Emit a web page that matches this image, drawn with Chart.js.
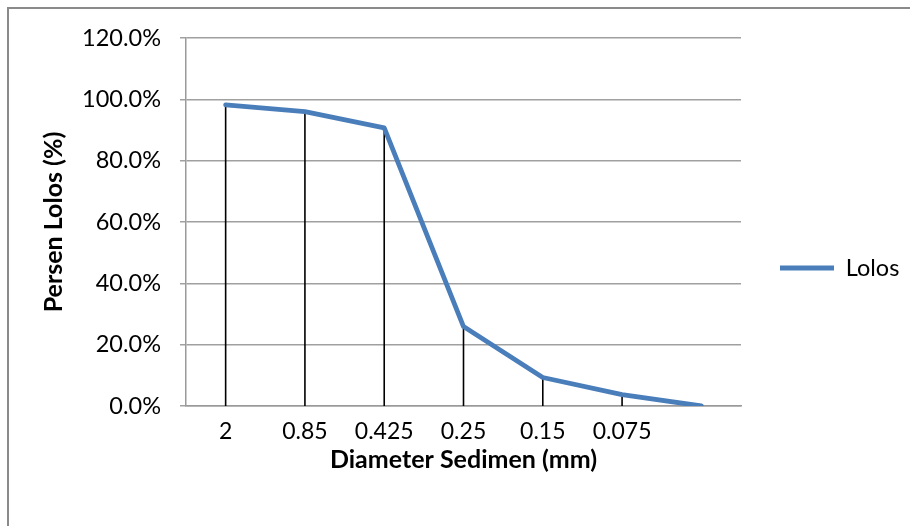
<!DOCTYPE html>
<html>
<head>
<meta charset="utf-8">
<script src="https://cdn.jsdelivr.net/npm/chart.js@4"></script>
<style>
  html, body { margin: 0; padding: 0; background: #fff; overflow: hidden; }
  #wrap { position: relative; width: 910px; height: 526px; }
  #frame { position: absolute; left: 7px; top: 7px; width: 1000px; height: 1000px;
           border-left: 2px solid #8a8a8a; border-top: 2px solid #8a8a8a; box-sizing: border-box; }
  #c { position: absolute; left: 0; top: 0; }
</style>
</head>
<body>
<div id="wrap">
  <div id="frame"></div>
  <canvas id="c" width="910" height="526"></canvas>
</div>
<script>
const categories = ['2', '0.85', '0.425', '0.25', '0.15', '0.075', ''];
const lolos = [0.982, 0.960, 0.907, 0.259, 0.093, 0.037, 0.0];
const yTicks = [0, 0.2, 0.4, 0.6, 0.8, 1.0, 1.2];
const seriesName = 'Lolos';
const xTitle = 'Diameter Sedimen (mm)';
const yTitle = 'Persen Lolos (%)';

const FONT = 'Lato, "Open Sans", sans-serif';

const dropLines = {
  id: 'dropLines',
  beforeDatasetsDraw(chart) {
    const meta = chart.getDatasetMeta(0);
    const yScale = chart.scales.y;
    const base = yScale.getPixelForValue(0);
    const ctx = chart.ctx;
    ctx.save();
    ctx.strokeStyle = '#000';
    ctx.lineWidth = 1.6;
    meta.data.forEach(pt => {
      ctx.beginPath();
      ctx.moveTo(pt.x, pt.y);
      ctx.lineTo(pt.x, base);
      ctx.stroke();
    });
    ctx.restore();
  }
};

new Chart(document.getElementById('c'), {
  type: 'line',
  data: {
    labels: categories,
    datasets: [{
      label: seriesName,
      data: lolos,
      borderColor: '#4A7EBB',
      backgroundColor: '#4A7EBB',
      borderWidth: 4.8,
      pointRadius: 0,
      pointHoverRadius: 0,
      tension: 0,
      borderCapStyle: 'round',
      borderJoinStyle: 'round',
      pointStyle: 'line'
    }]
  },
  options: {
    responsive: false,
    animation: false,
    devicePixelRatio: 1,
    layout: { padding: { left: 10, top: 38, right: 5, bottom: 28 } },
    plugins: {
      tooltip: { enabled: false },
      legend: {
        position: 'right',
        maxWidth: 164,
        labels: {
          usePointStyle: true,
          pointStyleWidth: 54,
          padding: 39,
          color: '#000',
          font: { family: FONT, size: 23.5 }
        }
      }
    },
    scales: {
      x: {
        offset: true,
        afterFit(scale) { scale.height = 92; },
        grid: { display: false, drawTicks: false, offset: true },
        border: { display: true, color: '#9a9a9a', width: 1.5 },
        ticks: {
          autoSkip: false, maxRotation: 0, minRotation: 0, padding: 12,
          color: '#000', font: { family: FONT, size: 23 }
        },
        title: {
          display: true, text: xTitle, color: '#000',
          font: { family: FONT, size: 25, weight: 'bold' },
          padding: { top: 0, bottom: 23 }
        }
      },
      y: {
        min: 0, max: 1.2,
        afterFit(scale) { scale.width = 176; },
        afterBuildTicks(scale) { scale.ticks = yTicks.map(v => ({ value: v })); },
        grid: { color: '#a0a0a0', lineWidth: 1.5, tickLength: 6, drawTicks: true },
        border: { display: true, color: '#9a9a9a', width: 1.5 },
        ticks: {
          padding: 19, color: '#000', font: { family: FONT, size: 23.5 },
          callback: v => (v * 100).toFixed(1) + '%'
        },
        title: {
          display: true, text: yTitle, color: '#000',
          font: { family: FONT, size: 25, weight: 'bold' },
          padding: { top: 29, bottom: 0 }
        }
      }
    }
  },
  plugins: [dropLines]
});
</script>
</body>
</html>
